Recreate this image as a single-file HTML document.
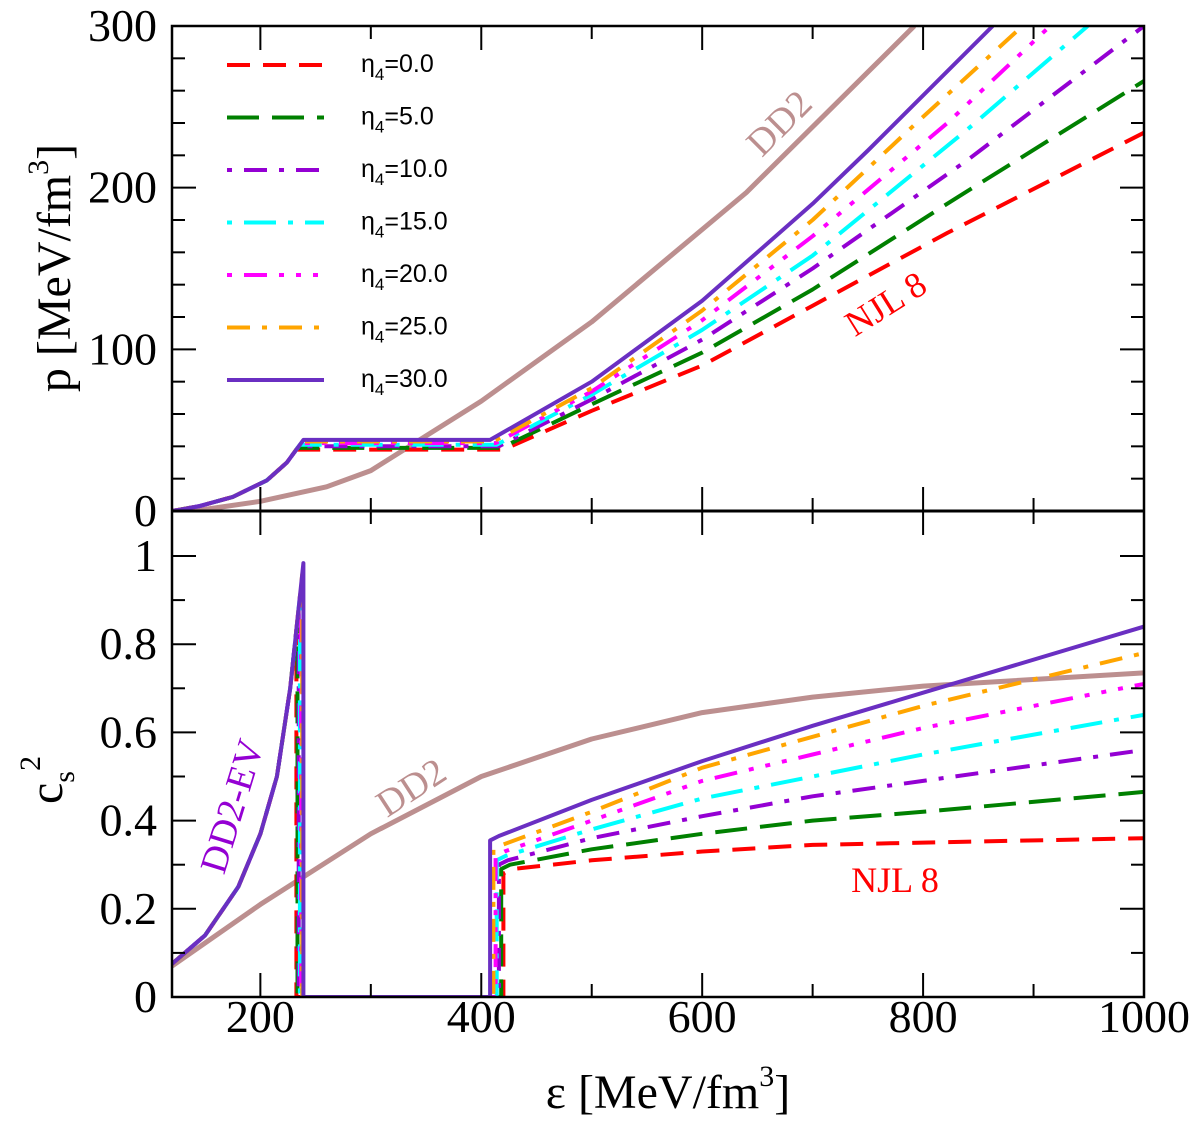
<!DOCTYPE html>
<html><head><meta charset="utf-8"><style>
html,body{margin:0;padding:0;background:#fff;}
svg{display:block;font-family:"Liberation Serif",serif;}
.lg{font-family:"Liberation Sans",sans-serif;font-size:25px;}
</style></head><body>
<svg id="chart" width="1200" height="1128" viewBox="0 0 1200 1128">
<g id="gtop"></g>
<g id="gbot"></g>
<g id="gaxes"></g>
</svg>
<script>
const etaLabels = ["0.0","5.0","10.0","15.0","20.0","25.0","30.0"];
const colors = ["#ff0000","#008000","#9400d3","#00ffff","#ff00ff","#ffa500","#6a2fc2"];
const dashes = ["23,13","32,13","5,12,23,12","5,12,32,12","5,12,23,12,5,12,5,12","23,12,5,12",""];
// hadronic branch (shared, DD2-EV)
const hadronEps = [120,145,175,206,224,239];
const hadronP   = [0,3,8.7,19,30,44];
const trans1Eps = [232.6,233.6,234.7,235.8,236.9,237.9,239];
const trans2Eps = [420,418,416,414,413,411,408];
const plateauP  = [38,39,40,41,42,43,44];
// quark branch pressure
const quarkEps = [[500,600,700,822,1000],[500,600,700,831,1000],[500,600,700,840,1000],[500,600,700,840,949],[500,600,700,822,915],[500,600,700,797,890],[500,600,700,750,863]];
const quarkP   = [[62,90,127,172,234],[66,98,137,194,266],[69,106,150,217,300],[72,112,158,236,300],[74,118,170,240,300],[76,124,180,242,300],[80,130,190,223,300]];
// DD2 pressure
const dd2Eps = [120,150,200,260,300,400,500,640,792];
const dd2P   = [0,1,6,15,25,68,117,197,300];
// sound speed
const cHadEps = [120,150,180,200,215,227,239];
const cHad    = [0.075,0.14,0.25,0.37,0.5,0.7,0.984];
const cQuarkEps = [500,600,700,800,1000];
const cStart  = [0.28,0.29,0.30,0.31,0.32,0.335,0.355];
const cQuark  = [[0.31,0.33,0.345,0.35,0.36],[0.335,0.37,0.40,0.42,0.465],[0.36,0.41,0.455,0.49,0.56],[0.38,0.45,0.50,0.55,0.64],[0.40,0.49,0.55,0.61,0.71],[0.42,0.52,0.59,0.66,0.78],[0.447,0.535,0.615,0.69,0.84]];
const dd2cEps = [120,200,300,400,500,600,700,800,1000];
const dd2c    = [0.07,0.21,0.37,0.5,0.585,0.645,0.68,0.705,0.735];

const X0=172,X1=1144,EMIN=120,EMAX=1000;
const xS = e => X0+(e-EMIN)*(X1-X0)/(EMAX-EMIN);
const yT = p => 511-p*(511-26)/300;
const yB = c => 997-c*(997-556);
function interp(xs,ys,v){for(let i=1;i<xs.length;i++){if(v<=xs[i]){const t=(v-xs[i-1])/(xs[i]-xs[i-1]);return ys[i-1]+t*(ys[i]-ys[i-1]);}}return ys[ys.length-1];}
const NS="http://www.w3.org/2000/svg";
function mk(tag,attrs,parent){const el=document.createElementNS(NS,tag);for(const k in attrs)el.setAttribute(k,attrs[k]);parent.appendChild(el);return el;}
const gTop=document.getElementById('gtop'),gBot=document.getElementById('gbot'),gAxes=document.getElementById('gaxes');
const clipDefs=mk('defs',{},document.getElementById('chart'));
const c1=mk('clipPath',{id:'ct'},clipDefs);mk('rect',{x:X0,y:26,width:X1-X0,height:485},c1);
const c2=mk('clipPath',{id:'cb'},clipDefs);mk('rect',{x:X0,y:511,width:X1-X0,height:486},c2);
gTop.setAttribute('clip-path','url(#ct)');gBot.setAttribute('clip-path','url(#cb)');
function path(pts,stroke,w,dash,parent,name){
  const d=pts.map((p,i)=>(i?'L':'M')+p[0].toFixed(1)+','+p[1].toFixed(1)).join('');
  const el=mk('path',{d:d,fill:'none',stroke:stroke,'stroke-width':w,'stroke-dasharray':dash||'none','stroke-linejoin':'round'},parent);
  
  
  return el;
}
path(dd2Eps.map((e,i)=>[xS(e),yT(dd2P[i])]),'#bc8f8f',5,'',gTop,'dd2-pressure-curve');
path(dd2cEps.map((e,i)=>[xS(e),yB(dd2c[i])]),'#bc8f8f',5,'',gBot,'dd2-sound-speed-curve');
for(let s=0;s<7;s++){
  const w = 4;
  let pts=[];
  for(let i=0;i<hadronEps.length;i++){ if(hadronEps[i]<trans1Eps[s]) pts.push([xS(hadronEps[i]),yT(hadronP[i])]); }
  pts.push([xS(trans1Eps[s]),yT(plateauP[s])]);
  pts.push([xS(trans2Eps[s]),yT(plateauP[s])]);
  quarkEps[s].forEach((e,i)=>pts.push([xS(e),yT(quarkP[s][i])]));
  path(pts,colors[s],w,dashes[s],gTop,'pressure-eta4-'+etaLabels[s]);
  let cp=[];
  for(let i=0;i<cHadEps.length;i++){ if(cHadEps[i]<trans1Eps[s]) cp.push([xS(cHadEps[i]),yB(cHad[i])]); }
  const peak=interp(cHadEps,cHad,trans1Eps[s]);
  cp.push([xS(trans1Eps[s]),yB(peak)]);
  cp.push([xS(trans1Eps[s]),yB(0)]);
  cp.push([xS(trans2Eps[s]),yB(0)]);
  cp.push([xS(trans2Eps[s]),yB(cStart[s])]);
  cp.push([xS(trans2Eps[s]+8),yB(cStart[s]+0.01)]);
  cQuarkEps.forEach((e,i)=>cp.push([xS(e),yB(cQuark[s][i])]));
  path(cp,colors[s],w,dashes[s],gBot,'sound-speed-eta4-'+etaLabels[s]);
}
function line(x1,y1,x2,y2,name,w){const l=mk('line',{x1:x1,y1:y1,x2:x2,y2:y2,stroke:'#000','stroke-width':w||2},gAxes);}
const fr=mk('rect',{x:X0,y:26,width:X1-X0,height:971,fill:'none',stroke:'#000','stroke-width':2.5},gAxes);


line(X0,511,X1,511,'panel-divider',3);
function txt(s,xx,yy,attrs,name,parent){const t=mk('text',Object.assign({x:xx,y:yy},attrs),parent||gAxes);t.textContent=s;return t;}
for(let e=200;e<=1000;e+=100){
  const L=e%200===0?24:13;
  [511,997].forEach(yb=>line(xS(e),yb,xS(e),yb-L,'x-tick'));
  [26,511].forEach(yt=>line(xS(e),yt,xS(e),yt+L,'x-tick'));
  if(e%200===0) txt(String(e),xS(e),1032,{'font-size':46,'text-anchor':'middle'},'x-tick-label');
}
for(let p=0;p<=300;p+=20){const L=p%100===0?24:13;line(X0,yT(p),X0+L,yT(p),'y-tick-top');line(X1,yT(p),X1-L,yT(p),'y-tick-top');
  if(p%100===0) txt(String(p),157,yT(p)+15,{'font-size':46,'text-anchor':'end'},'y-tick-label-top');}
for(let k=0;k<=10;k++){const c=k/10;const L=k%2===0?24:13;line(X0,yB(c),X0+L,yB(c),'y-tick-bottom');line(X1,yB(c),X1-L,yB(c),'y-tick-bottom');
  if(k%2===0) txt(k===0?'0':k===10?'1':String(c),157,yB(c)+15,{'font-size':46,'text-anchor':'end'},'y-tick-label-bottom');}
const xt=txt('',668,1108,{'font-size':48,'text-anchor':'middle'},'x-axis-title');
xt.innerHTML='ε [MeV/fm<tspan dy="-22" font-size="30">3</tspan><tspan dy="22">]</tspan>';
const yt=txt('',0,0,{'font-size':48,'text-anchor':'middle',transform:'translate(70,268) rotate(-90)'},'y-axis-title-pressure');
yt.innerHTML='p [MeV/fm<tspan dy="-22" font-size="30">3</tspan><tspan dy="22">]</tspan>';
const yc=txt('',0,0,{'font-size':48,'text-anchor':'middle',transform:'translate(62,780) rotate(-90)'},'y-axis-title-cs2');
yc.innerHTML='c<tspan dy="12" font-size="30">s</tspan><tspan dy="-34" font-size="30">2</tspan>';
txt('DD2',0,0,{'font-size':38,fill:'#bc8f8f','text-anchor':'middle',transform:'translate(788,132) rotate(-45)'},'dd2-label-top');
txt('NJL 8',0,0,{'font-size':36,fill:'#ff0000','text-anchor':'middle',transform:'translate(892,314) rotate(-32)'},'njl8-label-top');
txt('DD2',0,0,{'font-size':38,fill:'#bc8f8f','text-anchor':'middle',transform:'translate(418,798) rotate(-33)'},'dd2-label-bottom');
txt('DD2-EV',0,0,{'font-size':38,fill:'#9400d3','text-anchor':'middle',transform:'translate(244,810) rotate(-73)'},'dd2-ev-label');
txt('NJL 8',895,892,{'font-size':36,fill:'#ff0000','text-anchor':'middle'},'njl8-label-bottom');
const lg=mk('g',{},gAxes);


for(let s=0;s<7;s++){
  const yy=65+s*52.5;
  const l=mk('line',{x1:227,y1:yy,x2:324,y2:yy,stroke:colors[s],'stroke-width':4,'stroke-dasharray':dashes[s]||'none'},lg);
  
  
  const t=mk('text',{x:361,y:yy+7,class:'lg'},lg);
  t.innerHTML='η<tspan dy="8" font-size="17">4</tspan><tspan dy="-8">='+etaLabels[s]+'</tspan>';
  
  
}
</script>
</body></html>
